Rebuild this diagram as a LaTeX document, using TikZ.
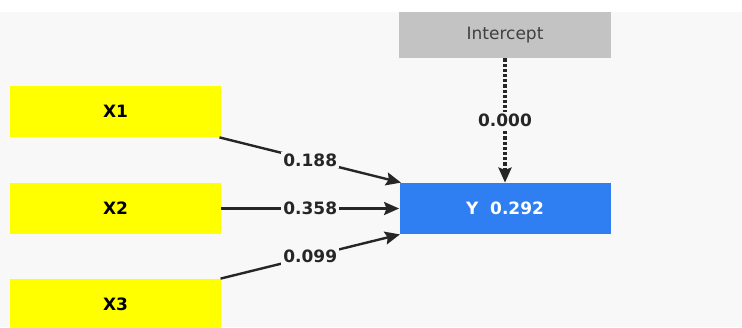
\documentclass[tikz,border=0pt]{standalone}
\usepackage{fontspec}
\setmainfont{DejaVu Sans}
\usetikzlibrary{positioning,arrows.meta}
\definecolor{predyellow}{HTML}{FFFF00}
\definecolor{respblue}{HTML}{2F7EF2}
\definecolor{icptgray}{HTML}{C3C3C3}
\definecolor{canvas}{HTML}{F8F8F8}
\tikzset{
  % --- constructs ------------------------------------------------------------
  pred/.style={rectangle,fill=predyellow,inner sep=0pt,minimum width=105.5pt,
               minimum height=25.5pt,font=\bfseries\fontsize{8.5}{10}\selectfont},
  resp/.style={pred,fill=respblue,text=white},
  icpt/.style={rectangle,fill=icptgray,inner sep=0pt,minimum width=106pt,
               minimum height=23pt,text=black!75,font=\fontsize{8.5}{10}\selectfont},
  % --- paths -----------------------------------------------------------------
  coef/.style={-{Stealth[length=7.5pt,width=6.5pt,inset=1.2pt]},line width=1.2pt,black!85},
  icoef/.style={coef,dash pattern=on 1.6pt off 1pt,line width=1.6pt},
  wlab/.style={midway,fill=canvas,inner sep=1pt,text=black!85,
               font=\bfseries\fontsize{8.5}{10}\selectfont},
}
\begin{document}
\begin{tikzpicture}[x=0.5pt,y=-0.5pt]

  \clip (0,0) rectangle (742,327);
  \fill[white] (0,0) rectangle (742,327);
  \fill[canvas] (0,12) rectangle (742,327);

  \node[pred] (x1) at (115.5,111.5) {X1};
  \node[pred] (x2) at (115.5,208.5) {X2};
  \node[pred] (x3) at (115.5,304.5) {X3};
  \node[resp] (y)  at (505,208.5)   {Y\ \ 0.292};
  \node[icpt] (ic) at (505,35)      {Intercept};

  \draw[coef] (x1) -- (y) node[wlab] {0.188};
  \draw[coef] (x2) -- (y) node[wlab] {0.358};
  \draw[coef] (x3) -- (y) node[wlab] {0.099};
  \draw[icoef] (ic) -- (y) node[wlab] {0.000};
\end{tikzpicture}
\end{document}
